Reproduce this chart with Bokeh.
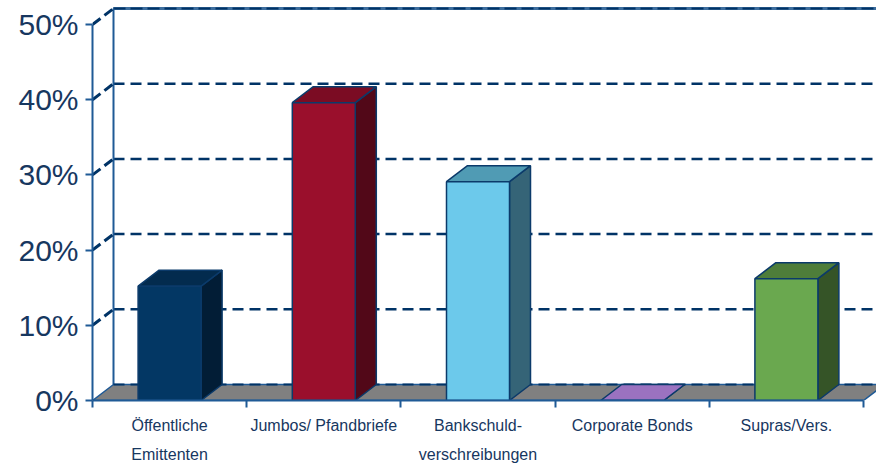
from bokeh.plotting import figure
from bokeh.models import FixedTicker, Range1d, LinearAxis
from bokeh.embed import file_html
from bokeh.resources import INLINE

# ---- data ----
categories = ["Öffentliche\nEmittenten", "Jumbos/ Pfandbriefe", "Bankschuld-\nverschreibungen",
              "Corporate Bonds", "Supras/Vers."]
values = [15.2, 39.6, 29.1, 0.0, 16.2]
front_colors = ["#033764", "#9a0f2c", "#6cc9eb", "#9b72c0", "#6aa84f"]
top_colors = ["#032b4e", "#7b0c23", "#509bb4", "#9b72c0", "#4e7d3a"]
side_colors = ["#021d36", "#520818", "#356477", "#7a579a", "#355427"]
y_ticks = [0, 10, 20, 30, 40, 50]
y_tick_labels = ["0%", "10%", "20%", "30%", "40%", "50%"]

# ---- style constants ----
PX_X = 154.2          # px per category
PX_Y = 7.52           # px per percent
DX = 21 / PX_X        # depth offset (data units)
DY = 16 / PX_Y
BAR_W = 63 / PX_X
AXIS_C = "#1f5a96"
GRID_C = "#003366"
EDGE_C = "#0b3a6a"
TEXT_C = "#17375f"

N = len(categories)
W, H = 876, 465
LEFT, BOTTOM = 92, 65
frame_w = W - LEFT
frame_h = H - BOTTOM

p = figure(width=W, height=H, output_backend="svg", toolbar_location=None,
           x_range=Range1d(0, frame_w / PX_X), y_range=Range1d(0, frame_h / PX_Y),
           min_border_left=LEFT, min_border_bottom=BOTTOM, min_border_top=0, min_border_right=0)
p.outline_line_color = None
p.grid.visible = False
p.background_fill_color = "white"
p.border_fill_color = "white"

xmax = frame_w / PX_X + 1

# back wall: grid lines
for t in y_ticks[1:]:
    p.line([DX, xmax], [t + DY, t + DY], line_color=GRID_C, line_width=2.5, line_dash="11 6")
# back wall top solid edge
p.line([DX, xmax], [y_ticks[-1] + DY] * 2, line_color="#3d6e9e", line_width=3)
p.line([DX, xmax], [y_ticks[-1] + DY] * 2, line_color=GRID_C, line_width=2, line_dash="12 5")
# back wall left edge
p.line([DX, DX], [DY, y_ticks[-1] + DY], line_color=AXIS_C, line_width=2)
# diagonal connectors at ticks
for t in y_ticks[1:]:
    p.line([0, DX], [t, t + DY], line_color=GRID_C, line_width=3, line_dash="10 5")

# floor
p.patch([0, N, N + DX, DX], [0, 0, DY, DY], fill_color="#808080", line_color=AXIS_C, line_width=1.5)
p.line([DX, N + DX], [DY, DY], line_color=GRID_C, line_width=2, line_dash="11 6")

# bars
fx, fy, tx, ty, sx, sy = [], [], [], [], [], []
for i, v in enumerate(values):
    c = i + 0.5
    x0, x1 = c - BAR_W / 2, c + BAR_W / 2
    fx.append([x0, x1, x1, x0]); fy.append([0, 0, v, v])
    tx.append([x0, x1, x1 + DX, x0 + DX]); ty.append([v, v, v + DY, v + DY])
    sx.append([x1, x1 + DX, x1 + DX, x1]); sy.append([0, DY, v + DY, v])
p.patches(sx, sy, fill_color=side_colors, line_color=EDGE_C, line_width=1.5)
p.patches(tx, ty, fill_color=top_colors, line_color=EDGE_C, line_width=1.5)
p.patches(fx, fy, fill_color=front_colors, line_color=EDGE_C, line_width=1.5)

# y axis (front)
ya = p.yaxis[0]
ya.ticker = FixedTicker(ticks=y_ticks)
ya.major_label_overrides = {t: l for t, l in zip(y_ticks, y_tick_labels)}
ya.bounds = (y_ticks[0], y_ticks[-1])
ya.axis_line_color = AXIS_C
ya.axis_line_width = 2
ya.major_tick_line_color = AXIS_C
ya.major_tick_line_width = 2
ya.major_tick_out = 7
ya.major_tick_in = 0
ya.minor_tick_line_color = None
ya.major_label_standoff = 7
ya.major_label_text_font = "Liberation Sans"
ya.major_label_text_font_size = "30px"
ya.major_label_text_color = TEXT_C

# x axis (front): first label line
centers = [i + 0.5 for i in range(N)]
line1 = [c.split("\n")[0] for c in categories]
line2 = [c.split("\n")[1] if "\n" in c else "" for c in categories]

xa = p.xaxis[0]
xa.ticker = FixedTicker(ticks=centers, minor_ticks=list(range(N + 1)))
xa.major_label_overrides = {c: l for c, l in zip(centers, line1)}
xa.bounds = (0, N)
xa.axis_line_color = AXIS_C
xa.axis_line_width = 2
xa.major_tick_line_color = None
xa.major_tick_out = 0
xa.major_tick_in = 0
xa.minor_tick_line_color = AXIS_C
xa.minor_tick_line_width = 2
xa.minor_tick_out = 7
xa.minor_tick_in = 0
xa.major_label_standoff = 9
xa.major_label_text_font = "Liberation Sans"
xa.major_label_text_font_size = "16px"
xa.major_label_text_color = TEXT_C
xa.major_label_orientation = "horizontal"

# second label line
xb = LinearAxis(ticker=FixedTicker(ticks=centers, minor_ticks=[]),
                major_label_overrides={c: (l if l else " ") for c, l in zip(centers, line2)})
xb.axis_line_color = None
xb.major_tick_line_color = None
xb.minor_tick_line_color = None
xb.major_tick_out = 0
xb.major_tick_in = 0
xb.major_label_standoff = 9
xb.major_label_text_font = "Liberation Sans"
xb.major_label_text_font_size = "16px"
xb.major_label_text_color = TEXT_C
xb.major_label_orientation = "horizontal"
p.add_layout(xb, "below")

open("out.html", "w").write(file_html(p, INLINE))
